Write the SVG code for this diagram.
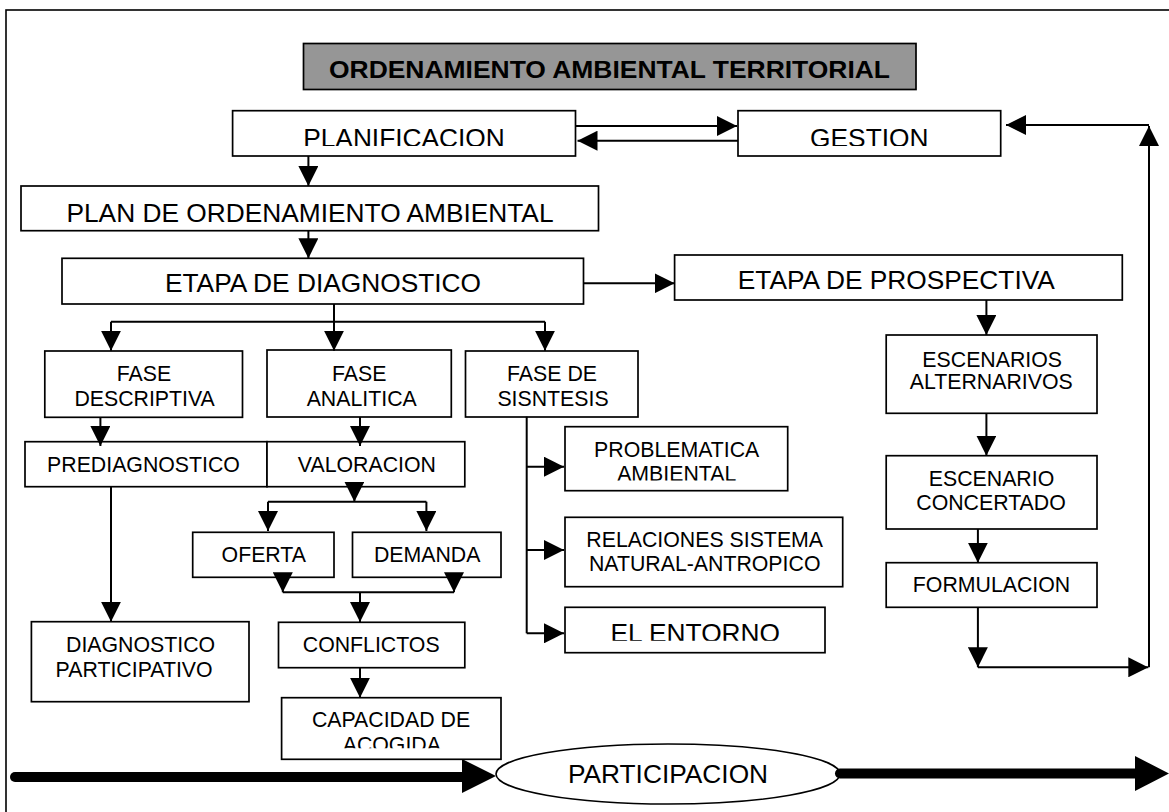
<svg xmlns="http://www.w3.org/2000/svg" width="1169" height="812" viewBox="0 0 1169 812">
<defs>
<style>
.box{fill:#fff;stroke:#000;stroke-width:1.7}
.t{font-family:"Liberation Sans",Arial,sans-serif;fill:#000;text-anchor:middle}
.big{font-size:26.3px}
.sm{font-size:21.3px}
.c{fill:none;stroke:#000;stroke-width:2}
.a{marker-end:url(#ah)}
.thick{fill:none;stroke:#000;stroke-width:10;stroke-linecap:round}
</style>
<marker id="ah" viewBox="0 0 20 20" refX="20" refY="10" markerWidth="20" markerHeight="20" markerUnits="userSpaceOnUse" orient="auto"><path d="M0,0 L20,10 L0,20 z" fill="#000"/></marker>
<clipPath id="cpPlan"><rect x="0" y="0" width="1169" height="146"/></clipPath>
<clipPath id="cpProsp"><rect x="0" y="0" width="1169" height="289"/></clipPath>
<clipPath id="cpAmb"><rect x="0" y="0" width="1169" height="480.5"/></clipPath>
<clipPath id="cpEnt"><rect x="0" y="0" width="1169" height="640.7"/></clipPath>
<clipPath id="cpAco"><rect x="0" y="0" width="1169" height="748.3"/></clipPath>
</defs>
<rect x="0" y="0" width="1169" height="812" fill="#fff"/>
<rect x="6" y="10" width="1200" height="900" fill="none" stroke="#000" stroke-width="1.6"/>

<g id="title">
<rect x="303.5" y="43.5" width="612.5" height="46" fill="#969696" stroke="#000" stroke-width="1.7"/>
<text x="609.5" y="77.7" class="t" font-weight="bold" font-size="24.5" textLength="561" lengthAdjust="spacingAndGlyphs">ORDENAMIENTO AMBIENTAL TERRITORIAL</text>
</g>
<g id="planificacion">
<rect class="box" x="232.6" y="110.7" width="342.9" height="45.3"/>
<text class="t big" x="404" y="147" clip-path="url(#cpPlan)">PLANIFICACION</text>
</g>
<g id="gestion">
<rect class="box" x="738" y="110.7" width="262.7" height="45.3"/>
<text class="t big" x="869.3" y="147" clip-path="url(#cpPlan)">GESTION</text>
</g>
<g id="plan-ordenamiento">
<rect class="box" x="21" y="186" width="577.5" height="44.7"/>
<text class="t big" x="310" y="221.5">PLAN DE ORDENAMIENTO AMBIENTAL</text>
</g>
<g id="etapa-diagnostico">
<rect class="box" x="62" y="258.3" width="521.5" height="45.7"/>
<text class="t big" x="323" y="292">ETAPA DE DIAGNOSTICO</text>
</g>
<g id="etapa-prospectiva">
<rect class="box" x="674.6" y="255" width="447.7" height="45"/>
<text class="t big" x="896.3" y="288.5" clip-path="url(#cpProsp)">ETAPA DE PROSPECTIVA</text>
</g>
<g id="fase-descriptiva">
<rect class="box" x="44.8" y="351" width="197.7" height="66.3"/>
<text class="t sm" x="144" y="381">FASE</text>
<text class="t sm" x="144.6" y="405.7">DESCRIPTIVA</text>
</g>
<g id="fase-analitica">
<rect class="box" x="267" y="350" width="184.3" height="67"/>
<text class="t sm" x="359.2" y="381">FASE</text>
<text class="t sm" x="361.7" y="405.7">ANALITICA</text>
</g>
<g id="fase-sintesis">
<rect class="box" x="465.5" y="351" width="172.5" height="66"/>
<text class="t sm" x="552" y="381">FASE DE</text>
<text class="t sm" x="553" y="405.7">SISNTESIS</text>
</g>
<g id="prediagnostico">
<rect class="box" x="25" y="441.7" width="242" height="45"/>
<text class="t sm" x="143.5" y="471.7">PREDIAGNOSTICO</text>
</g>
<g id="valoracion">
<rect class="box" x="267" y="441.7" width="197.8" height="45"/>
<text class="t sm" x="366.9" y="471.7">VALORACION</text>
</g>
<g id="oferta">
<rect class="box" x="192.7" y="532.3" width="141.3" height="45"/>
<text class="t sm" x="263.8" y="561.7">OFERTA</text>
</g>
<g id="demanda">
<rect class="box" x="352.5" y="532.3" width="148.5" height="45"/>
<text class="t sm" x="427.2" y="561.7">DEMANDA</text>
</g>
<g id="diagnostico-participativo">
<rect class="box" x="31.4" y="621.7" width="217.6" height="80"/>
<text class="t sm" x="140.6" y="652.3">DIAGNOSTICO</text>
<text class="t sm" x="134.1" y="676.7">PARTICIPATIVO</text>
</g>
<g id="conflictos">
<rect class="box" x="278.5" y="622.3" width="186.3" height="45.4"/>
<text class="t sm" x="371.2" y="651.7">CONFLICTOS</text>
</g>
<g id="capacidad">
<rect class="box" x="281.6" y="697.7" width="219.4" height="61.6"/>
<text class="t sm" x="391" y="727.3">CAPACIDAD DE</text>
<text class="t sm" x="391.8" y="752" clip-path="url(#cpAco)">ACOGIDA</text>
</g>
<g id="problematica">
<rect class="box" x="565" y="426.7" width="222.7" height="64"/>
<text class="t sm" x="676.7" y="457.3">PROBLEMATICA</text>
<text class="t sm" x="676.7" y="480.5" clip-path="url(#cpAmb)">AMBIENTAL</text>
</g>
<g id="relaciones">
<rect class="box" x="565" y="517.3" width="277.7" height="69.4"/>
<text class="t sm" x="704.7" y="546.7">RELACIONES SISTEMA</text>
<text class="t sm" x="704.7" y="570.7">NATURAL-ANTROPICO</text>
</g>
<g id="entorno">
<rect class="box" x="565" y="607.3" width="260" height="45.4"/>
<text class="t big" x="695.3" y="641.5" clip-path="url(#cpEnt)">EL ENTORNO</text>
</g>
<g id="escenarios">
<rect class="box" x="886.2" y="335" width="210.8" height="78.3"/>
<text class="t sm" x="992.2" y="366.7">ESCENARIOS</text>
<text class="t sm" x="991.2" y="388.5">ALTERNARIVOS</text>
</g>
<g id="escenario-concertado">
<rect class="box" x="886.2" y="455.7" width="210.8" height="73.3"/>
<text class="t sm" x="991.5" y="486">ESCENARIO</text>
<text class="t sm" x="991" y="510">CONCERTADO</text>
</g>
<g id="formulacion">
<rect class="box" x="886.2" y="562.7" width="210.8" height="44.6"/>
<text class="t sm" x="991.5" y="591.7">FORMULACION</text>
</g>
<g id="participacion">
<ellipse cx="668" cy="774" rx="172" ry="30" fill="#fff" stroke="#000" stroke-width="1.6"/>
<text class="t big" x="668" y="783.3">PARTICIPACION</text>
</g>

<g id="connectors">
<path class="c a" d="M575.5,126 H737"/>
<path class="c a" d="M738,140.7 H577.5"/>
<path class="c a" d="M1149,125 H1006"/>
<path class="c a" d="M1149,667.3 V126"/>
<path class="c a" d="M308.4,156 V186"/>
<path class="c a" d="M308.4,230.7 V258.3"/>
<path class="c a" d="M583.5,283.3 H674.6"/>
<path class="c" d="M334,304 V321.7 M111,321.7 H545"/>
<path class="c a" d="M111,321.7 V350.7"/>
<path class="c a" d="M334,321.7 V350.7"/>
<path class="c a" d="M545,321.7 V350.7"/>
<path class="c a" d="M100.4,417.3 V446"/>
<path class="c a" d="M360,417 V446"/>
<path class="c" d="M526.7,416.7 V633.3"/>
<path class="c a" d="M526.7,466.7 H564"/>
<path class="c a" d="M526.7,550 H564"/>
<path class="c a" d="M526.7,633.3 H564"/>
<path class="c a" d="M111,486.7 V621.7"/>
<path class="c a" d="M354.4,487.3 V501.7"/>
<path class="c" d="M268,501.7 H426.4"/>
<path class="c a" d="M268,501.7 V531"/>
<path class="c a" d="M426.4,501.7 V531"/>
<path class="c a" d="M282.8,577.3 V592.3"/>
<path class="c a" d="M454,577.3 V592.3"/>
<path class="c" d="M282.8,592.3 H454"/>
<path class="c a" d="M360,592.3 V622"/>
<path class="c a" d="M360,667.7 V697.7"/>
<path class="c a" d="M986.4,300 V335"/>
<path class="c a" d="M986.4,413.3 V455.7"/>
<path class="c a" d="M977.9,529 V562.7"/>
<path class="c a" d="M977.9,607.3 V667.3"/>
<path class="c a" d="M977.9,667.3 H1148.3"/>
<path class="thick" d="M15,777 H462"/>
<polygon points="462,759 496,776 462,793" fill="#000"/>
<path class="thick" d="M840,773.5 H1135" stroke-linecap="butt"/>
<polygon points="1135,756 1169,773.5 1135,791" fill="#000"/>
</g>
</svg>
